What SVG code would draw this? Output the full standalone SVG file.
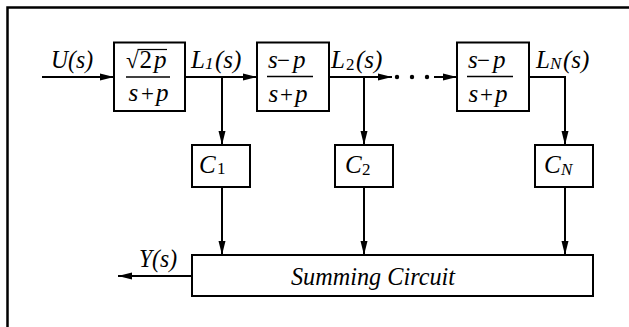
<svg xmlns="http://www.w3.org/2000/svg" width="629" height="327" viewBox="0 0 629 327">
<defs>
<style>
.ln{fill:none;stroke:#000;stroke-width:2}
.bx{fill:#fff;stroke:#000;stroke-width:2}
.t{font-family:"Liberation Serif","Times New Roman",serif;font-style:italic;font-size:25px;fill:#000}
.r{font-style:normal}
.s{font-size:17px}
.m{font-size:23px}
</style>
<marker id="ah" markerWidth="14" markerHeight="8" refX="14" refY="4" orient="auto" markerUnits="userSpaceOnUse">
<path d="M0,0.5 L14,4 L0,7.5 Z" fill="#000"/>
</marker>
</defs>
<rect width="629" height="327" fill="#fff"/>
<path d="M7.5,327 V7.5 H629" fill="none" stroke="#000" stroke-width="2.5"/>

<g id="connectors">
<line class="ln" x1="42" y1="77" x2="114" y2="77" marker-end="url(#ah)"/>
<line class="ln" x1="185" y1="77" x2="257" y2="77" marker-end="url(#ah)"/>
<line class="ln" x1="222" y1="77" x2="222" y2="145" marker-end="url(#ah)"/>
<line class="ln" x1="329" y1="77" x2="392" y2="77" marker-end="url(#ah)"/>
<line class="ln" x1="364" y1="77" x2="364" y2="145" marker-end="url(#ah)"/>
<circle cx="397" cy="77" r="2.2" fill="#000"/>
<circle cx="412" cy="77" r="2.2" fill="#000"/>
<circle cx="427" cy="77" r="2.2" fill="#000"/>
<line class="ln" x1="434" y1="77" x2="457" y2="77" marker-end="url(#ah)"/>
<polyline class="ln" points="529,77 565,77 565,145" marker-end="url(#ah)"/>
<line class="ln" x1="222" y1="187" x2="222" y2="255" marker-end="url(#ah)"/>
<line class="ln" x1="364" y1="187" x2="364" y2="255" marker-end="url(#ah)"/>
<line class="ln" x1="565" y1="187" x2="565" y2="255" marker-end="url(#ah)"/>
<line class="ln" x1="192" y1="276" x2="118" y2="276" marker-end="url(#ah)"/>
</g>

<g id="labels">
<text class="t" x="51" y="68" textLength="42" lengthAdjust="spacingAndGlyphs">U(s)</text>
<text class="t" y="68"><tspan x="191">L</tspan><tspan class="s" x="205" y="69">1</tspan><tspan x="215" y="68">(s)</tspan></text>
<text class="t" y="68"><tspan x="331">L</tspan><tspan class="s r" x="346" y="70">2</tspan><tspan x="356" y="68">(s)</tspan></text>
<text class="t" y="68"><tspan x="536">L</tspan><tspan class="s" x="550" y="69">N</tspan><tspan x="563" y="68">(s)</tspan></text>
<text class="t" x="139" y="267" textLength="38" lengthAdjust="spacingAndGlyphs">Y(s)</text>
</g>

<g id="block1">
<rect class="bx" x="114" y="42.5" width="71" height="68.5"/>
<line x1="137.5" y1="49.5" x2="167" y2="49.5" stroke="#000" stroke-width="1.2"/>
<text class="t" y="68"><tspan class="r m" x="126">√</tspan><tspan class="r" x="139.5">2</tspan><tspan x="154">p</tspan></text>
<line x1="126" y1="77" x2="170" y2="77" stroke="#000" stroke-width="1.3"/>
<text class="t" y="101"><tspan x="128.5">s</tspan><tspan class="r m" x="141">+</tspan><tspan x="156">p</tspan></text>
</g>

<g id="block2">
<rect class="bx" x="257" y="42.5" width="72" height="68.5"/>
<text class="t" y="68"><tspan x="268">s</tspan><tspan class="r m" x="277">−</tspan><tspan x="293">p</tspan></text>
<line x1="267" y1="76.5" x2="313" y2="76.5" stroke="#000" stroke-width="1.3"/>
<text class="t" y="101.5"><tspan x="268.5">s</tspan><tspan class="r m" x="280">+</tspan><tspan x="295">p</tspan></text>
</g>

<g id="blockN">
<rect class="bx" x="457" y="42.5" width="72" height="68.5"/>
<text class="t" y="68"><tspan x="468">s</tspan><tspan class="r m" x="477">−</tspan><tspan x="493">p</tspan></text>
<line x1="467" y1="76.5" x2="513" y2="76.5" stroke="#000" stroke-width="1.3"/>
<text class="t" y="101.5"><tspan x="468.5">s</tspan><tspan class="r m" x="480">+</tspan><tspan x="495">p</tspan></text>
</g>

<g id="c1">
<rect class="bx" x="192" y="145" width="58" height="42"/>
<text class="t" y="173"><tspan x="199">C</tspan><tspan class="s r" x="217" y="174">1</tspan></text>
</g>
<g id="c2">
<rect class="bx" x="335" y="145" width="58" height="42"/>
<text class="t" y="173"><tspan x="345">C</tspan><tspan class="s r" x="362" y="175">2</tspan></text>
</g>
<g id="cN">
<rect class="bx" x="535" y="145" width="58" height="42"/>
<text class="t" y="173"><tspan x="544">C</tspan><tspan class="s" x="561" y="175">N</tspan></text>
</g>

<g id="summing">
<rect class="bx" x="192" y="255" width="401" height="41"/>
<text class="t" x="291" y="285" textLength="164" lengthAdjust="spacingAndGlyphs">Summing Circuit</text>
</g>
</svg>
